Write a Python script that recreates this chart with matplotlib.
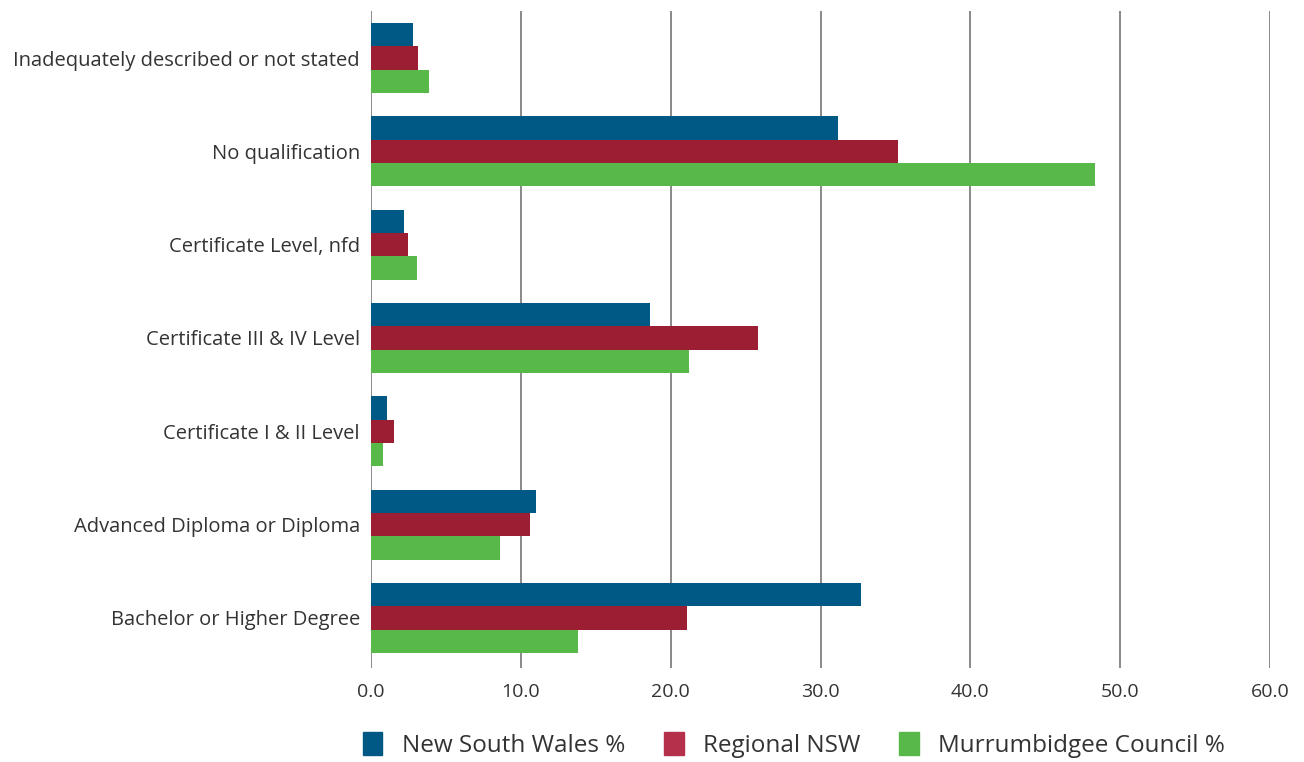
import matplotlib.pyplot as plt
import numpy as np
from matplotlib.patches import Patch

plt.rcParams['font.family'] = ['Open Sans', 'DejaVu Sans']

categories = ["Inadequately described or not stated", "No qualification",
              "Certificate Level, nfd", "Certificate III & IV Level",
              "Certificate I & II Level", "Advanced Diploma or Diploma",
              "Bachelor or Higher Degree"]
nsw = [2.8, 31.2, 2.2, 18.6, 1.1, 11.0, 32.7]
regional = [3.15, 35.2, 2.5, 25.8, 1.55, 10.6, 21.1]
murrumbidgee = [3.9, 48.3, 3.1, 21.2, 0.8, 8.6, 13.8]
series_names = ["New South Wales %", "Regional NSW", "Murrumbidgee Council %"]
colors = ["#005984", "#9B1E33", "#58B84A"]
legend_colors = ["#005984", "#B5304A", "#58B84A"]

fig = plt.figure(figsize=(13.04, 7.62), dpi=100)
ax = fig.add_axes([371/1304, 1 - 668/762, (1270-371)/1304, (668-10.7)/762])

y = np.arange(len(categories))
h = 0.25
for i, (vals, c) in enumerate(zip([nsw, regional, murrumbidgee], colors)):
    ax.barh(y + (i - 1) * h, vals, height=h, color=c, zorder=3)

ax.set_xlim(0, 60)
ax.set_ylim(6.536, -0.507)
ax.set_xticks(np.arange(0, 61, 10))
ax.set_xticklabels([f"{v:.1f}" for v in np.arange(0, 61, 10)])
ax.set_yticks(y)
ax.set_yticklabels(categories)
ax.xaxis.grid(True, color="#808080", linewidth=1.3, zorder=0)
for s in ax.spines.values():
    s.set_visible(False)
ax.tick_params(axis='y', length=0, pad=8, labelsize=14.5, labelcolor="#333333")
ax.tick_params(axis='x', length=0, pad=11, labelsize=14, labelcolor="#333333")

handles = [Patch(color=c, label=n) for c, n in zip(legend_colors, series_names)]
fig.legend(handles=handles, loc='center', bbox_to_anchor=(794/1304, 1 - 745/762), ncol=3,
           frameon=False, fontsize=17.5, handlelength=0.8, handleheight=1.1,
           handletextpad=0.8, columnspacing=1.6, labelcolor="#333333")

fig.savefig("out.png", dpi=100)
